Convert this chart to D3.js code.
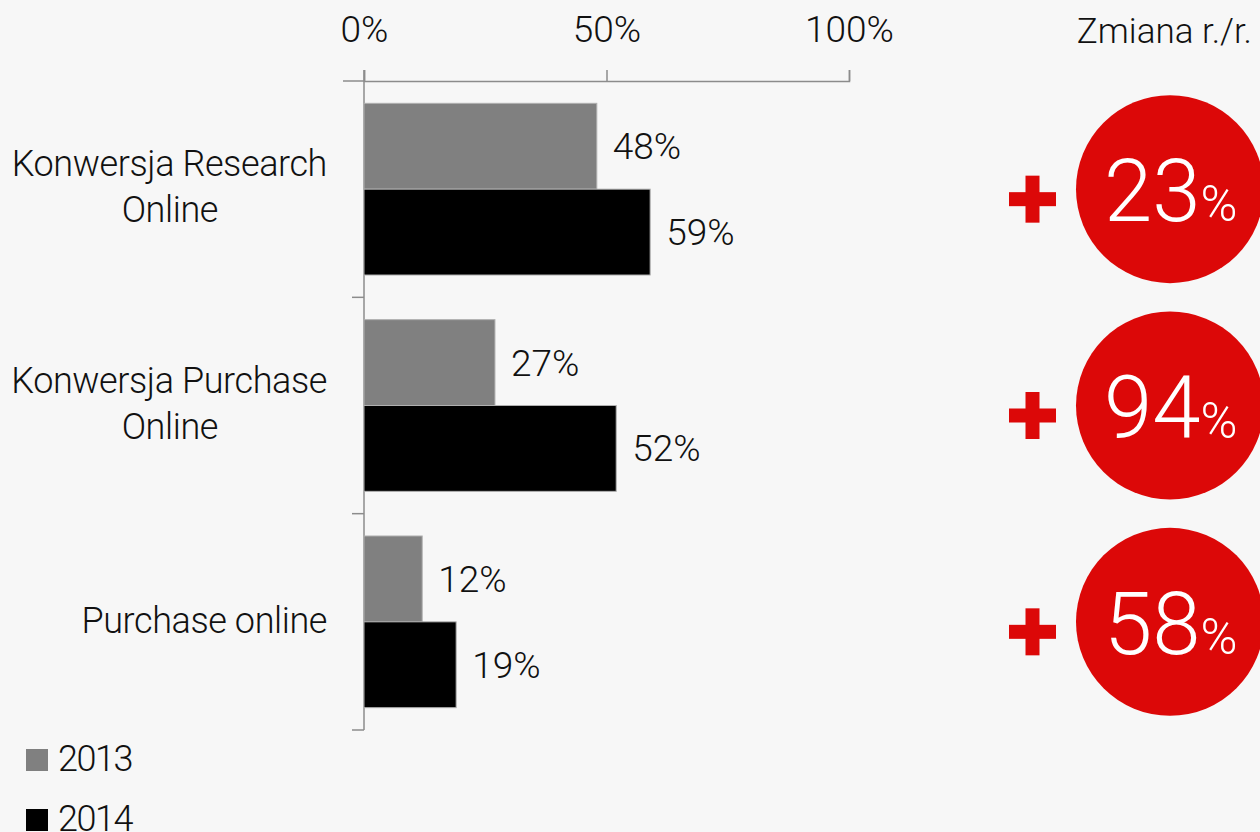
<!DOCTYPE html>
<html>
<head>
<meta charset="utf-8">
<script src="https://cdn.jsdelivr.net/npm/d3@7"></script>
<style>
  html, body { margin: 0; padding: 0; background: #f7f7f7; }
  svg { display: block; font-family: Roboto, "Noto Sans", sans-serif; font-weight: 300; }
</style>
</head>
<body>
<svg id="chart" width="1260" height="832"></svg>
<script>
// Conversion rates by year, with year-over-year change
const categories = ["Konwersja Research Online", "Konwersja Purchase Online", "Purchase online"];
const categoryLines = [["Konwersja Research", "Online"], ["Konwersja Purchase", "Online"], ["Purchase online"]];
const years = ["2013", "2014"];
const values2013 = [48, 27, 12];
const values2014 = [59, 52, 19];
const changeYoY = [23, 94, 58];
const xTickValues = [0, 50, 100];
const changeTitle = "Zmiana r./r.";

const colors = { "2013": "#808080", "2014": "#000000" };
const red = "#dc0808";
const axisColor = "#8c8c8c";

const svg = d3.select("#chart");

const x = d3.scaleLinear().domain([0, 100]).range([364, 849]);
const y = d3.scaleBand().domain(categories).range([81, 730]).padding(0);
const ySub = d3.scaleBand().domain(years).range([0, y.bandwidth()]).paddingInner(0).paddingOuter(0.26);

const rows = categories.map((c, i) => ({
  category: c,
  lines: categoryLines[i],
  change: changeYoY[i],
  bars: [
    { year: "2013", value: values2013[i] },
    { year: "2014", value: values2014[i] }
  ]
}));

// Top percentage axis
const xAxis = d3.axisTop(x)
  .tickValues(xTickValues)
  .tickSize(11)
  .tickSizeOuter(11)
  .tickPadding(28)
  .tickFormat(d => d + "%");

const gx = svg.append("g").attr("transform", "translate(0,81)").call(xAxis);
gx.select(".domain").attr("stroke", axisColor).attr("stroke-width", 1.5);
gx.selectAll(".tick line").attr("stroke", axisColor).attr("stroke-width", 1.5);
gx.selectAll(".tick text")
  .attr("fill", "#111")
  .style("font-size", "37px")
  .style("font-family", "Roboto, sans-serif")
  .style("font-weight", 300);

// Left category axis: a vertical line with ticks at band boundaries
const edges = [y.range()[0]].concat(categories.map(c => y(c) + y.bandwidth()));
const gy = svg.append("g");
gy.append("line")
  .attr("x1", x(0)).attr("x2", x(0))
  .attr("y1", 70).attr("y2", edges[edges.length - 1])
  .attr("stroke", axisColor).attr("stroke-width", 1.5);
gy.selectAll("line.edge")
  .data(edges)
  .join("line")
  .attr("class", "edge")
  .attr("x1", (d, i) => x(0) - (i === 0 ? 21 : 12))
  .attr("x2", x(0))
  .attr("y1", d => d).attr("y2", d => d)
  .attr("stroke", axisColor).attr("stroke-width", 1.5);

// Category labels
const labelG = svg.append("g")
  .selectAll("text")
  .data(rows)
  .join("text")
  .attr("text-anchor", "end")
  .attr("fill", "#111")
  .style("font-size", "36px")
  .style("letter-spacing", "-0.4px")
  .attr("transform", d => `translate(327,${y(d.category) + y.bandwidth() / 2})`);
labelG.selectAll("tspan")
  .data(d => d.lines.map((t, k) => ({ t, k, n: d.lines.length })))
  .join("tspan")
  .attr("x", d => d.n > 1 ? (d.k === 0 ? 0 : -109) : 0)
  .attr("y", d => d.n > 1 ? (d.k === 0 ? -13 : 33) : 11)
  .text(d => d.t);

// Bars
const groups = svg.append("g")
  .selectAll("g")
  .data(rows)
  .join("g")
  .attr("transform", d => `translate(0,${y(d.category)})`);

groups.selectAll("rect")
  .data(d => d.bars)
  .join("rect")
  .attr("x", x(0))
  .attr("y", d => ySub(d.year))
  .attr("width", d => x(d.value) - x(0))
  .attr("height", ySub.bandwidth())
  .attr("fill", d => colors[d.year])
  .attr("stroke", "#b0b0b0")
  .attr("stroke-width", 1);

groups.selectAll("text")
  .data(d => d.bars)
  .join("text")
  .attr("x", d => x(d.value) + 16)
  .attr("y", d => ySub(d.year) + ySub.bandwidth() / 2 + 13)
  .attr("fill", "#111")
  .style("font-size", "37px")
  .text(d => d.value + "%");

// Year-over-year change column
svg.append("text")
  .attr("x", 1252).attr("y", 43)
  .attr("text-anchor", "end")
  .attr("fill", "#111")
  .style("font-size", "35px")
  .text(changeTitle);

const change = svg.append("g")
  .selectAll("g")
  .data(rows)
  .join("g")
  .attr("transform", d => `translate(0,${y(d.category) + y.bandwidth() / 2})`);

// plus sign
change.append("rect")
  .attr("x", 1009).attr("y", 3).attr("width", 47).attr("height", 14)
  .attr("fill", red);
change.append("rect")
  .attr("x", 1025.5).attr("y", -13.5).attr("width", 14).attr("height", 47)
  .attr("fill", red);

change.append("circle")
  .attr("cx", 1170).attr("cy", 0).attr("r", 94)
  .attr("fill", red);

const num = change.append("text")
  .attr("x", 1104).attr("y", 32)
  .attr("fill", "#fff");
num.append("tspan")
  .style("font-size", "87px")
  .text(d => d.change);
num.append("tspan")
  .attr("dx", 0)
  .style("font-size", "50px")
  .text("%");

// Legend
const legend = svg.append("g")
  .selectAll("g")
  .data(years)
  .join("g")
  .attr("transform", (d, i) => `translate(26,${749 + i * 60})`);
legend.append("rect")
  .attr("width", 22).attr("height", 22)
  .attr("fill", d => colors[d]);
legend.append("text")
  .attr("x", 32).attr("y", 22)
  .attr("fill", "#111")
  .style("font-size", "36px")
  .style("letter-spacing", "-1.5px")
  .text(d => d);
</script>
</body>
</html>
